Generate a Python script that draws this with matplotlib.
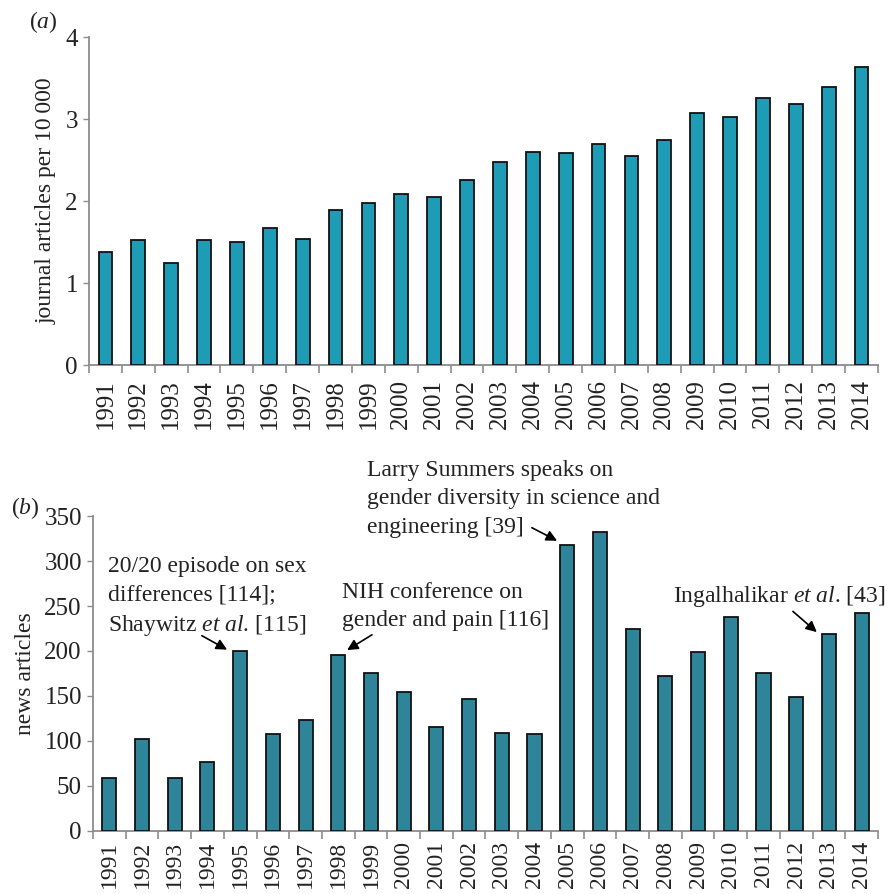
import numpy as np
import matplotlib
matplotlib.use('Agg')
import matplotlib.pyplot as plt

plt.rcParams['font.family'] = ['Liberation Serif', 'DejaVu Serif']
plt.rcParams['mathtext.fontset'] = 'custom'
plt.rcParams['mathtext.rm'] = 'Liberation Serif'
plt.rcParams['mathtext.it'] = 'Liberation Serif:italic'

# data
years = [str(y) for y in range(1991, 2015)]
journal_per_10k = [1.38, 1.52, 1.25, 1.52, 1.50, 1.67, 1.54, 1.89, 1.98, 2.09, 2.05, 2.26,
                   2.48, 2.60, 2.58, 2.70, 2.55, 2.75, 3.07, 3.02, 3.26, 3.18, 3.39, 3.64]
news_articles = [59, 102, 59, 77, 200, 108, 123, 195, 176, 154, 116, 147,
                 109, 108, 318, 332, 224, 172, 199, 238, 176, 149, 219, 242]

spine_col = '#8c8c8c'
text_col = '#222222'

fig = plt.figure(figsize=(8.88, 8.94), dpi=100)
ax_a = fig.add_axes([0.1002, 0.5917, 0.8885, 0.3669])
ax_b = fig.add_axes([0.1047, 0.0705, 0.8840, 0.3523])


def style_axes(ax, ylabel, xsize, xpad):
    x = np.arange(len(years))
    ax.set_xlim(-0.5, len(years) - 0.5)
    ax.set_xticks(x)
    ax.set_xticklabels(years, rotation=90, fontsize=xsize, color=text_col)
    ax.set_xticks(np.arange(len(years) + 1) - 0.5, minor=True)
    ax.tick_params(axis='x', which='major', length=0, pad=xpad)
    ax.tick_params(axis='x', which='minor', length=6, width=1.2, color=spine_col, direction='out')
    ax.tick_params(axis='y', length=4, width=1.0, color=spine_col, labelsize=18,
                   labelcolor=text_col, pad=4)
    for s in ['top', 'right']:
        ax.spines[s].set_visible(False)
    for s in ['left', 'bottom']:
        ax.spines[s].set_color(spine_col)
        ax.spines[s].set_linewidth(1.3)
    ax.set_ylabel(ylabel, fontsize=17, color=text_col, labelpad=6)


x = np.arange(len(years))

# panel a
ax_a.bar(x, journal_per_10k, width=0.42, color='#1e9cb6', edgecolor='#111111', linewidth=1.3, zorder=3)
ax_a.set_ylim(0, 4)
ax_a.set_yticks([0, 1, 2, 3, 4])
style_axes(ax_a, 'journal articles per 10\u2009000', 18, 10)

# panel b
ax_b.bar(x, news_articles, width=0.43, color='#2e8499', edgecolor='#111111', linewidth=1.3, zorder=3)
ax_b.set_ylim(0, 350)
ax_b.set_yticks(np.arange(0, 351, 50))
style_axes(ax_b, 'news articles', 17, 7)

fig.text(0.033, 0.975, r'($\it{a}$)', fontsize=17, color=text_col, va='center')
fig.text(0.012, 0.432, r'($\it{b}$)', fontsize=17, color=text_col, va='center')

# annotations on panel b
arrow = dict(arrowstyle='-|>', color='black', lw=1.2, mutation_scale=16, shrinkA=0, shrinkB=0)
ann_kw = dict(fontsize=17, color=text_col, va='top', ha='left', linespacing=1.45, clip_on=False)

i = years.index('1995')
ax_b.text(-0.04, 306, '20/20 episode on sex\ndifferences [114];\nShaywitz $\\it{et\\ al}$. [115]', **ann_kw)
ax_b.annotate('', xy=(i - 0.4, news_articles[i] + 1.5), xytext=(i - 1.17, news_articles[i] + 17),
              arrowprops=arrow)

i = years.index('1998')
ax_b.text(7.11, 277, 'NIH conference on\ngender and pain [116]', **ann_kw)
ax_b.annotate('', xy=(i + 0.27, news_articles[i] + 6), xytext=(i + 1.03, news_articles[i] + 23),
              arrowprops=arrow)

i = years.index('2005')
ax_b.text(7.88, 412, 'Larry Summers speaks on\ngender diversity in science and\nengineering [39]', **ann_kw)
ax_b.annotate('', xy=(i - 0.31, news_articles[i] + 4.5), xytext=(i - 1.08, news_articles[i] + 19),
              arrowprops=arrow)

i = years.index('2013')
ax_b.text(17.23, 274, 'Ingalhalikar $\\it{et\\ al}$. [43]', **ann_kw)
ax_b.annotate('', xy=(i - 0.37, news_articles[i] + 2), xytext=(i - 1.1, news_articles[i] + 25),
              arrowprops=arrow)

fig.savefig('out.png', dpi=100)
